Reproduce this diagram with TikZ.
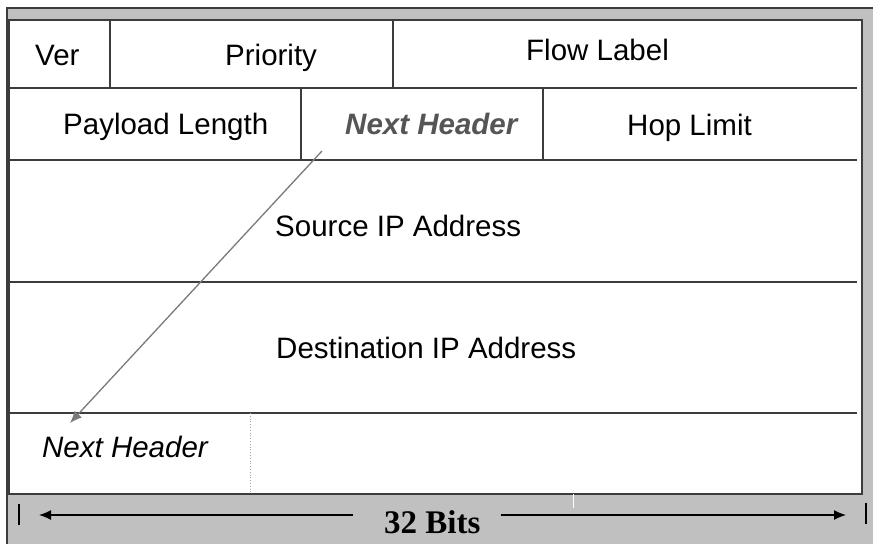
\documentclass[tikz,border=0pt]{standalone}
\usepackage{fontspec}
\setmainfont{Liberation Sans}
\newfontfamily\timesfont{Liberation Serif}
\usetikzlibrary{arrows.meta}
\definecolor{bandgray}{HTML}{C0C0C0}
\definecolor{linegray}{HTML}{3C3C3C}
\definecolor{arrowgray}{HTML}{7A7A7A}
\definecolor{nhgray}{HTML}{555555}
\begin{document}
\begin{tikzpicture}[x=1pt,y=-1pt,
  lbl/.style={inner sep=0pt,anchor=base west,font=\fontsize{29.5}{30}\selectfont},
  grid/.style={draw=linegray,line width=1.4pt},
  frame/.style={draw=linegray,line width=1.6pt},
  tip/.style={-{Latex[length=12pt,width=10pt]}}]
\useasboundingbox (0,0) rectangle (873,544);
% gray band
\fill[bandgray] (7,8) rectangle (873,544);
\draw[frame] (7,544) -- (7,8) -- (873,8);
% white table
\fill[white] (9,20) rectangle (862,494);
\draw[frame] (9,20) rectangle (862,494);
% row lines
\draw[grid] (9,88) -- (857,88);
\draw[grid] (9,160) -- (857,160);
\draw[grid] (9,282) -- (857,282);
\draw[grid] (9,413) -- (857,413);
% column lines
\draw[grid] (110,20) -- (110,88);
\draw[grid] (393,20) -- (393,88);
\draw[grid] (301,88) -- (301,160);
\draw[grid] (543,88) -- (543,160);
\draw[gray!70,line width=0.8pt,dotted] (250,413) -- (250,494);
% white tick in band
\draw[white,line width=1pt] (573,494) -- (573,508);
% texts
\node[lbl] (ver) at (35,65) {Ver};
\node[lbl] (prio) at (225,65) {Priority};
\node[lbl] (flow) at (526,60) {Flow Label};
\node[lbl] (plen) at (63,134) {Payload Length};
\node[lbl,text=nhgray,font=\fontsize{29.5}{30}\selectfont\bfseries\itshape] (nh) at (345,134) {Next Header};
\node[lbl] (hop) at (627,135) {Hop Limit};
\node[lbl] (src) at (275,236) {Source IP Address};
\node[lbl] (dst) at (276,358) {Destination IP Address};
\node[lbl,font=\fontsize{29.5}{30}\selectfont\itshape] (nh2) at (42,457) {Next Header};
\node[inner sep=0pt,anchor=base west,font=\fontsize{33}{34}\selectfont\timesfont\bfseries] (bits) at (384,533) {32 Bits};
% diagonal arrow
\coordinate (dfrom) at (322,151);
\coordinate (dto) at (70,423);
\draw[arrowgray,line width=1.3pt,tip] (dfrom) -- (dto);
% 32 bits arrows
\coordinate (lend) at (39,515);
\coordinate (rend) at (846,515);
\draw[black,line width=1.3pt,tip] (bits.west |- 0,515) ++(-31,0) -- (lend);
\draw[black,line width=1.3pt,tip] (bits.east |- 0,515) ++(20,0) -- (rend);
\coordinate (lt1) at (19,504);
\coordinate (lt2) at (19,525);
\coordinate (rt1) at (866,503);
\coordinate (rt2) at (866,524);
\draw[black,line width=1.3pt] (lt1) -- (lt2);
\draw[black,line width=1.3pt] (rt1) -- (rt2);
\end{tikzpicture}
\end{document}
